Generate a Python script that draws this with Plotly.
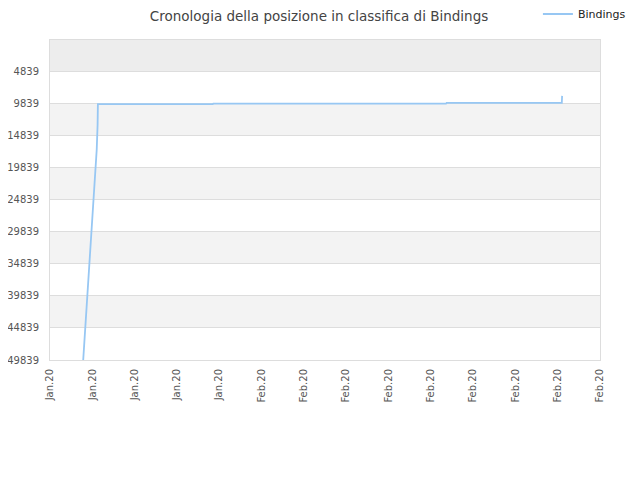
import plotly.graph_objects as go

# Ranking history of "Bindings" (lower number = better position)
dates = [
    "2020-01-21 08:30", "2020-01-21 13:00", "2020-01-21 17:30",
    "2020-01-21 23:00", "2020-01-22 03:00", "2020-01-22 07:30",
    "2020-01-22 09:00", "2020-01-22 09:30", "2020-01-30 13:00",
    "2020-01-30 14:00", "2020-02-16 02:00", "2020-02-16 03:00",
    "2020-02-24 07:00", "2020-02-24 07:30",
]
ranks = [
    49839, 43600, 35800,
    29600, 23400, 17100,
    13200, 10000, 10000,
    9900, 9900, 9800,
    9800, 8700,
]

y_ticks = [4839, 9839, 14839, 19839, 24839, 29839, 34839, 39839, 44839, 49839]
x_start = "2020-01-19"
x_end = "2020-02-27"

fig = go.Figure()
fig.add_trace(go.Scatter(
    x=dates, y=ranks, mode="lines", name="Bindings",
    line=dict(color="#97c7f3", width=1.8),
))

# alternating background bands
edges = [0] + y_ticks
shapes = []
for i in range(len(edges) - 1):
    if i == 0:
        color = "#ededed"
    elif i % 2 == 0:
        color = "#f3f3f3"
    else:
        continue
    shapes.append(dict(type="rect", xref="paper", yref="y", x0=0, x1=1,
                       y0=edges[i], y1=edges[i + 1], fillcolor=color,
                       line=dict(width=0), layer="below"))

fig.update_layout(
    width=640, height=480,
    margin=dict(l=42, r=48, t=32, b=128, autoexpand=False),
    paper_bgcolor="white", plot_bgcolor="white",
    font=dict(family="DejaVu Sans", size=10, color="#555555"),
    title=dict(text="Cronologia della posizione in classifica di Bindings",
               xref="container", yref="container",
               x=0.486, xanchor="center", y=0.983, yanchor="middle",
               font=dict(size=13.5, color="#444444")),
    showlegend=True,
    legend=dict(xref="container", yref="container",
                x=0.828, xanchor="left", y=0.9875, yanchor="middle",
                font=dict(size=11, color="#222222"), bgcolor="rgba(0,0,0,0)"),
    shapes=shapes,
    xaxis=dict(
        type="date", range=[x_start, x_end],
        dtick=3 * 86400000, tick0=x_start, tickformat="%b.%y",
        tickangle=-90, showgrid=False, zeroline=False,
        showline=True, linecolor="#dddddd", mirror=True,
        ticks="", ticklabelstandoff=4, automargin=False,
    ),
    yaxis=dict(
        range=[49839, 0], tickvals=y_ticks, ticktext=[str(v) for v in y_ticks],
        showgrid=True, gridcolor="#dddddd", zeroline=False,
        showline=True, linecolor="#dddddd", mirror=True,
        ticks="", ticklabelstandoff=8, automargin=False,
    ),
)

fig.write_html("out.html")
